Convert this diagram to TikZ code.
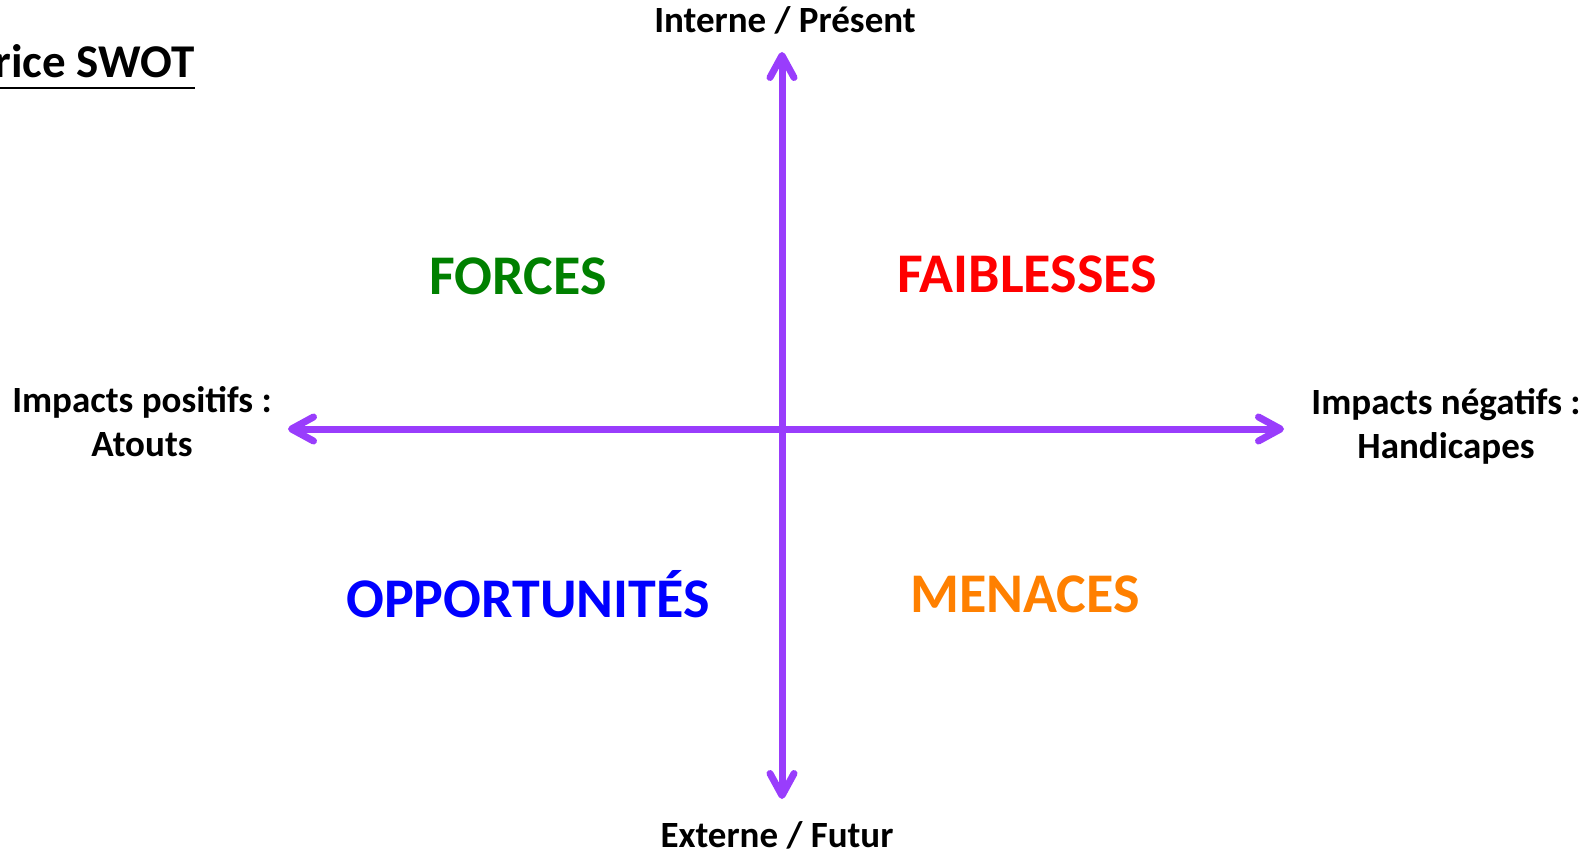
\documentclass[tikz,border=0pt]{standalone}
\usepackage{fontspec}
\setmainfont{Carlito}
\usetikzlibrary{arrows.meta}
\definecolor{axeviolet}{RGB}{153,61,252}
\definecolor{vertforce}{RGB}{0,128,0}
\definecolor{orangemenace}{RGB}{255,128,0}
\tikzset{
  axe/.style={line width=7pt, axeviolet, {Straight Barb[length=22pt,width=24pt,round]}-{Straight Barb[length=22pt,width=24pt,round]}},
  quadrant/.style={font=\bfseries\fontsize{56}{56}\selectfont, anchor=base, inner sep=0pt},
  legende/.style={font=\bfseries\fontsize{37}{44}\selectfont, align=center, anchor=base, inner sep=0pt}
}
\begin{document}
\begin{tikzpicture}[x=1pt,y=-1pt]
	\useasboundingbox (0,0) rectangle (1595,853);
	% axes
	\coordinate (N) at (782,52);
	\coordinate (S) at (782,799);
	\coordinate (W) at (288,429);
	\coordinate (E) at (1284,429);
	\draw[axe] (N) -- (S);
	\draw[axe] (W) -- (E);
	% titre
	\node[font=\bfseries\fontsize{47}{47}\selectfont, anchor=base east, inner sep=0pt] (titre) at (195,78) {rice SWOT};
	\draw[line width=2.5pt] ([yshift=-10pt]titre.base west) -- ([yshift=-10pt]titre.base east);
	% legendes des axes
	\node[legende] (interne) at (785,33) {Interne / Présent};
	\node[legende] (externe) at (777,847) {Externe / Futur};
	\node[legende] (positif) at (142,456) {Impacts positifs :\\Atouts};
	\node[legende] (negatif) at (1446,458) {Impacts négatifs :\\Handicapes};
	% quadrants
	\node[quadrant, vertforce] (forces) at (518,294) {FORCES};
	\node[quadrant, red] (faiblesses) at (1027,292) {FAIBLESSES};
	\node[quadrant, blue] (opportunites) at (528,617) {OPPORTUNITÉS};
	\node[quadrant, orangemenace] (menaces) at (1025,612) {MENACES};
\end{tikzpicture}
\end{document}
